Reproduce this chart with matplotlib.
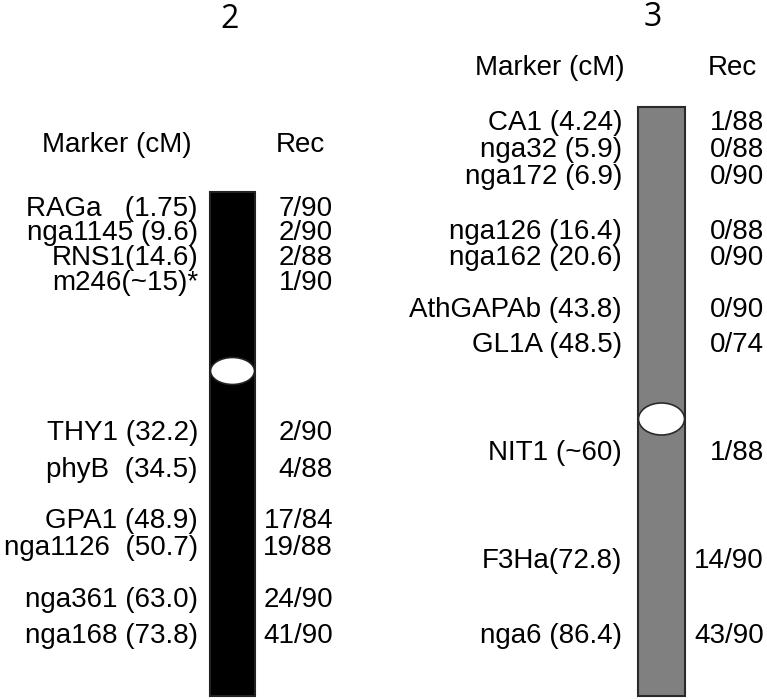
import matplotlib
matplotlib.use('Agg')
import matplotlib.pyplot as plt
from matplotlib.patches import Rectangle, Ellipse

# chromosome 2
chr2_markers = ['RAGa   (1.75)', 'nga1145 (9.6)', 'RNS1(14.6)', 'm246(~15)*',
                'THY1 (32.2)', 'phyB  (34.5)', 'GPA1 (48.9)', 'nga1126  (50.7)',
                'nga361 (63.0)', 'nga168 (73.8)']
chr2_rec = ['7/90', '2/90', '2/88', '1/90', '2/90', '4/88', '17/84', '19/88',
            '24/90', '41/90']

# chromosome 3
chr3_markers = ['CA1 (4.24)', 'nga32 (5.9)', 'nga172 (6.9)', 'nga126 (16.4)',
                'nga162 (20.6)', 'AthGAPAb (43.8)', 'GL1A (48.5)', 'NIT1 (~60)',
                'F3Ha(72.8)', 'nga6 (86.4)']
chr3_rec = ['1/88', '0/88', '0/90', '0/88', '0/90', '0/90', '0/74', '1/88',
            '14/90', '43/90']

# layout (pixel rows of the drawing)
row_y2 = [206, 230, 255, 280, 430, 467, 518, 545, 597, 633]
row_y3 = [120, 147, 174, 229, 255, 307, 342, 450, 558, 633]

W, H = 767, 700
fig = plt.figure(figsize=(W / 100, H / 100), dpi=100)
ax = fig.add_axes([0, 0, 1, 1])
ax.set_xlim(0, W)
ax.set_ylim(H, 0)
ax.axis('off')

fs = 20
fam = ['Liberation Sans', 'DejaVu Sans']


def draw_chrom(title_x, title_y, hdr_y, mark_x, rec_x, hdr_mark_x, hdr_rec_x,
               bar_x, bar_w, bar_top, bar_bot, cen_y, cen_h,
               markers, recs, rows, fill, edge):
    ax.text(title_x, title_y, title, ha='center', va='center', fontsize=23,
            family=['Open Sans', 'DejaVu Sans'])
    ax.text(hdr_mark_x, hdr_y + 10, 'Marker (cM)', ha='center', va='baseline',
            fontsize=fs, family=fam)
    ax.text(hdr_rec_x, hdr_y + 10, 'Rec', ha='center', va='baseline',
            fontsize=fs, family=fam)
    ax.add_patch(Rectangle((bar_x, bar_top), bar_w, bar_bot - bar_top,
                           facecolor=fill, edgecolor=edge, lw=1.5))
    ax.add_patch(Ellipse((bar_x + bar_w / 2, cen_y), bar_w - 1, cen_h,
                         facecolor='white', edgecolor=edge, lw=1.2))
    for m, r, y in zip(markers, recs, rows):
        ax.text(mark_x, y + 10, m, ha='right', va='baseline', fontsize=fs,
                family=fam)
        ax.text(rec_x, y + 10, r, ha='right', va='baseline', fontsize=fs,
                family=fam)


title = '2'
draw_chrom(230, 19, 142, 198, 333, 117, 300, 210, 45, 192, 696, 371, 27,
           chr2_markers, chr2_rec, row_y2, 'black', '#222222')
title = '3'
draw_chrom(653, 17, 65, 622, 764, 550, 732, 638, 47, 107, 696, 419, 32,
           chr3_markers, chr3_rec, row_y3, '#808080', '#2a2a2a')

fig.savefig('out.png', dpi=100)
